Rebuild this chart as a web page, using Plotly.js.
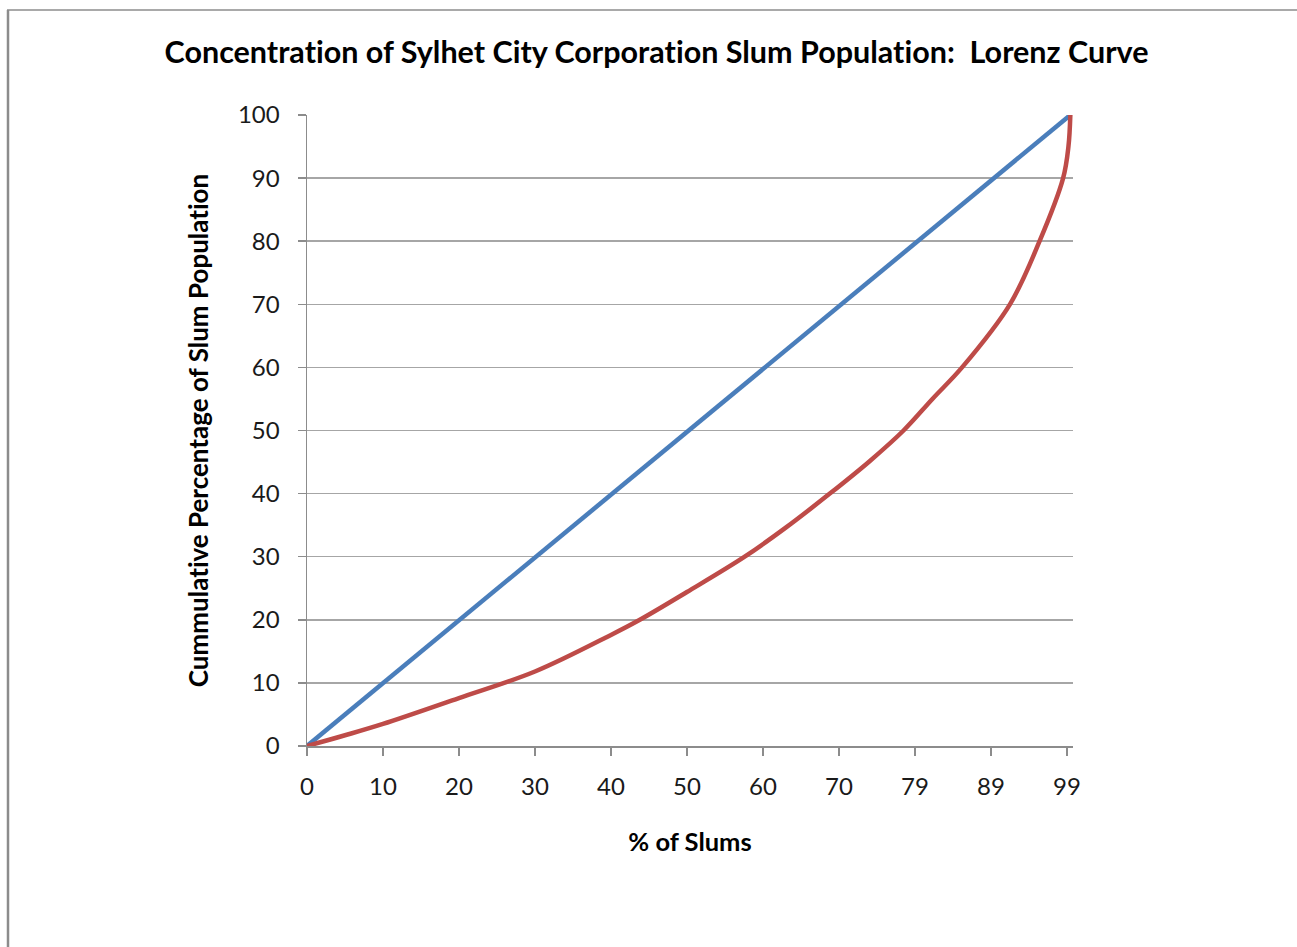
<!DOCTYPE html>
<html>
<head>
<meta charset="utf-8">
<script src="https://cdn.plot.ly/plotly-3.0.1.min.js"></script>
<style>
  html, body { margin: 0; padding: 0; background: #fff; }
  #chart { width: 1297px; height: 947px; }
  #chart text { font-variant-ligatures: none; font-feature-settings: "liga" 0, "clig" 0; }
</style>
</head>
<body>
<div id="chart"></div>
<script>
// Tick positions on the category axis and their printed labels
const xTickPositions = [0, 10, 20, 30, 40, 50, 60, 70, 80, 90, 100];
const xTickLabels = ["0", "10", "20", "30", "40", "50", "60", "70", "79", "89", "99"];

// Line of equality
const equalityX = [0, 100.45];
const equalityY = [0, 100];

// Lorenz curve
const lorenzX = [0, 5, 10, 20, 30, 40, 43.8, 50, 57.6, 63, 68.8, 74, 78.5, 82.3, 86.2, 92.5, 96.4, 99.5, 100.2, 100.45];
const lorenzY = [0, 1.7, 3.5, 7.6, 11.8, 17.6, 20, 24.4, 30, 34.6, 40, 45.1, 50, 55, 60, 70, 80, 90, 95, 100];

const W = 1297, H = 947;
const L = 307, R = 224, T = 115, B = 201;
const pw = W - L - R, ph = H - T - B;
const px = v => (v - L) / pw;
const py = v => (H - B - v) / ph;

const traces = [
  { x: equalityX, y: equalityY, mode: 'lines', line: { color: '#4a7ebb', width: 4.5 }, hoverinfo: 'skip' },
  { x: lorenzX, y: lorenzY, mode: 'lines', line: { color: '#be4b48', width: 4.5, shape: 'spline', smoothing: 1 }, hoverinfo: 'skip' }
];

const fontFam = 'Lato, "Open Sans", sans-serif';

const layout = {
  width: W, height: H,
  margin: { l: L, r: R, t: T, b: B },
  paper_bgcolor: '#ffffff',
  plot_bgcolor: '#ffffff',
  showlegend: false,
  hovermode: false,
  font: { family: fontFam, color: '#1a1a1a' },
  title: {
    text: '<b>Concentration of Sylhet City Corporation Slum Population:  Lorenz Curve</b>',
    font: { family: fontFam, size: 30.5, color: '#000' },
    xref: 'paper', x: px(656.5), xanchor: 'center',
    yref: 'container', y: 1 - 52 / H, yanchor: 'middle'
  },
  xaxis: {
    range: [0, 100.8],
    tickmode: 'array', tickvals: xTickPositions, ticktext: xTickLabels,
    showgrid: false, zeroline: false,
    showline: true, linecolor: '#8c8c8c', linewidth: 1.5,
    ticks: 'outside', ticklen: 8, tickcolor: '#8c8c8c', tickwidth: 1.5,
    tickfont: { family: fontFam, size: 24, color: '#1a1a1a' },
    ticklabelstandoff: 11,
    title: { text: '<b>% of Slums</b>', font: { family: fontFam, size: 25.5, color: '#000' }, standoff: 34 }
  },
  yaxis: {
    range: [0, 100], tickmode: 'linear', tick0: 0, dtick: 10,
    showgrid: true, gridcolor: '#a6a6a6', gridwidth: 1.5,
    zeroline: false,
    showline: true, linecolor: '#8c8c8c', linewidth: 1.5,
    ticks: 'outside', ticklen: 8, tickcolor: '#8c8c8c', tickwidth: 1.5,
    tickfont: { family: fontFam, size: 24, color: '#1a1a1a' },
    ticklabelstandoff: 13,
    title: { text: '<b>Cummulative Percentage of Slum Population</b>', font: { family: fontFam, size: 26, color: '#000' }, standoff: 22 }
  },
  shapes: [
    { type: 'line', xref: 'paper', yref: 'paper', x0: px(8), x1: px(8), y0: py(H + 5), y1: py(10), line: { color: '#8c8c8c', width: 2.5 } },
    { type: 'line', xref: 'paper', yref: 'paper', x0: px(7), x1: px(W + 5), y0: py(10), y1: py(10), line: { color: '#8c8c8c', width: 1.5 } }
  ]
};

Plotly.newPlot('chart', traces, layout, { displayModeBar: false, staticPlot: true });
</script>
</body>
</html>
